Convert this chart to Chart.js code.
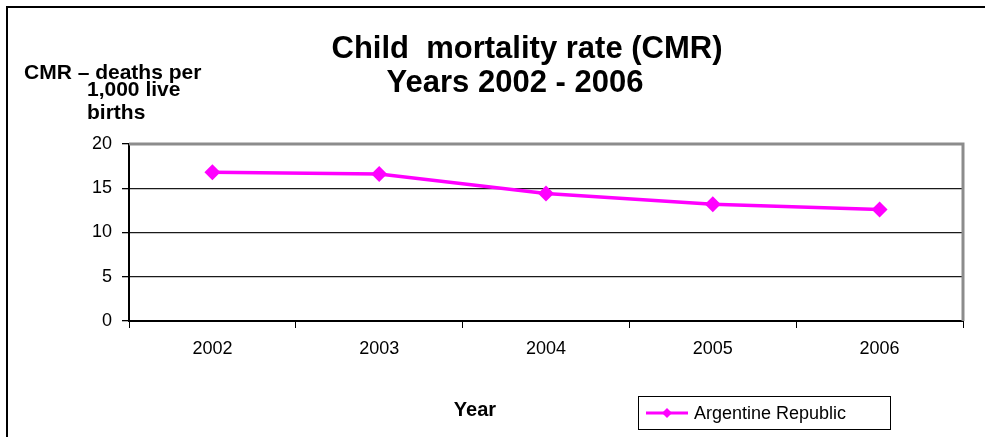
<!DOCTYPE html>
<html>
<head>
<meta charset="utf-8">
<script src="https://cdn.jsdelivr.net/npm/chart.js@4"></script>
<style>
  html, body { margin: 0; padding: 0; background: #fff; }
  #wrap { width: 985px; height: 437px; position: relative; }
</style>
</head>
<body>
<div id="wrap"><canvas id="cmr-chart" width="985" height="437"></canvas></div>
<script>
const years = ['2002', '2003', '2004', '2005', '2006'];
const cmrArgentina = [16.8, 16.6, 14.4, 13.2, 12.6];
const yTicks = [0, 5, 10, 15, 20];
const seriesName = 'Argentine Republic';
const titleLines = ['Child  mortality rate (CMR)', 'Years 2002 - 2006'];
const yTitleLines = ['CMR \u2013 deaths per', '1,000 live', 'births'];
const xTitle = 'Year';

const FONT = 'Arial, "Liberation Sans", sans-serif';
const MAGENTA = '#ff00ff';

// frame, plot border, titles and legend drawn on top of the chart
const decorations = {
  id: 'decorations',
  beforeDraw(chart) {
    const ctx = chart.ctx;
    ctx.save();
    ctx.fillStyle = '#fff';
    ctx.fillRect(0, 0, chart.width, chart.height);
    ctx.restore();
  },
  afterDraw(chart) {
    const ctx = chart.ctx;
    const a = chart.chartArea;
    ctx.save();

    // outer frame (only left and top visible)
    ctx.strokeStyle = '#000';
    ctx.lineWidth = 2;
    ctx.beginPath();
    ctx.moveTo(7, chart.height);
    ctx.lineTo(7, 7);
    ctx.lineTo(chart.width, 7);
    ctx.stroke();

    // gray plot border top & right
    ctx.strokeStyle = '#8c8c8c';
    ctx.lineWidth = 3;
    ctx.beginPath();
    ctx.moveTo(a.left, a.top);
    ctx.lineTo(a.right, a.top);
    ctx.lineTo(a.right, a.bottom);
    ctx.stroke();

    ctx.fillStyle = '#000';
    ctx.textBaseline = 'alphabetic';

    // main title
    ctx.font = 'bold 31px ' + FONT;
    ctx.textAlign = 'center';
    ctx.fillText(titleLines[0], 527, 58);
    ctx.fillText(titleLines[1], 515, 92);

    // y axis title
    ctx.font = 'bold 21px ' + FONT;
    ctx.textAlign = 'left';
    ctx.fillText(yTitleLines[0], 24, 79);
    ctx.fillText(yTitleLines[1], 87, 96);
    ctx.fillText(yTitleLines[2], 87, 119);

    // x axis title
    ctx.font = 'bold 20px ' + FONT;
    ctx.textAlign = 'center';
    ctx.fillText(xTitle, 475, 416);

    // legend
    const ds = chart.data.datasets[0];
    ctx.strokeStyle = '#000';
    ctx.lineWidth = 1;
    ctx.strokeRect(638.5, 396.5, 252, 33);
    ctx.strokeStyle = ds.borderColor;
    ctx.lineWidth = 3;
    ctx.beginPath();
    ctx.moveTo(646, 413);
    ctx.lineTo(688, 413);
    ctx.stroke();
    ctx.fillStyle = ds.borderColor;
    ctx.beginPath();
    ctx.moveTo(667, 408);
    ctx.lineTo(672, 413);
    ctx.lineTo(667, 418);
    ctx.lineTo(662, 413);
    ctx.closePath();
    ctx.fill();
    ctx.fillStyle = '#000';
    ctx.font = '18px ' + FONT;
    ctx.textAlign = 'left';
    ctx.fillText(ds.label, 694, 419);

    ctx.restore();
  }
};

new Chart(document.getElementById('cmr-chart'), {
  type: 'line',
  data: {
    labels: years,
    datasets: [{
      label: seriesName,
      data: cmrArgentina,
      borderColor: MAGENTA,
      backgroundColor: MAGENTA,
      borderWidth: 3.5,
      pointStyle: 'rectRot',
      pointRadius: 5.5,
      pointHoverRadius: 5.5,
      tension: 0,
      fill: false
    }]
  },
  options: {
    responsive: false,
    animation: false,
    devicePixelRatio: 1,
    layout: { padding: { top: 144, right: 22, left: 0, bottom: 0 } },
    plugins: {
      legend: { display: false },
      title: { display: false },
      tooltip: { enabled: false }
    },
    scales: {
      x: {
        offset: true,
        grid: {
          offset: true,
          drawOnChartArea: false,
          drawTicks: true,
          tickLength: 7,
          color: '#000'
        },
        border: { color: '#000', width: 2 },
        ticks: {
          color: '#000',
          font: { family: FONT, size: 18 },
          padding: 10,
          maxRotation: 0
        },
        afterFit(scale) { scale.height = 116; }
      },
      y: {
        min: 0,
        max: 20,
        afterBuildTicks(scale) { scale.ticks = yTicks.map(v => ({ value: v })); },
        grid: {
          color: ctx => (ctx.tick && (ctx.tick.value === 20) ? 'rgba(0,0,0,0)' : '#1a1a1a'),
          tickColor: '#000',
          lineWidth: 1.3,
          tickLength: 7
        },
        border: { color: '#000', width: 2 },
        ticks: {
          color: '#000',
          font: { family: FONT, size: 18 },
          padding: 10
        },
        afterFit(scale) { scale.width = 129; }
      }
    }
  },
  plugins: [decorations]
});
</script>
</body>
</html>
